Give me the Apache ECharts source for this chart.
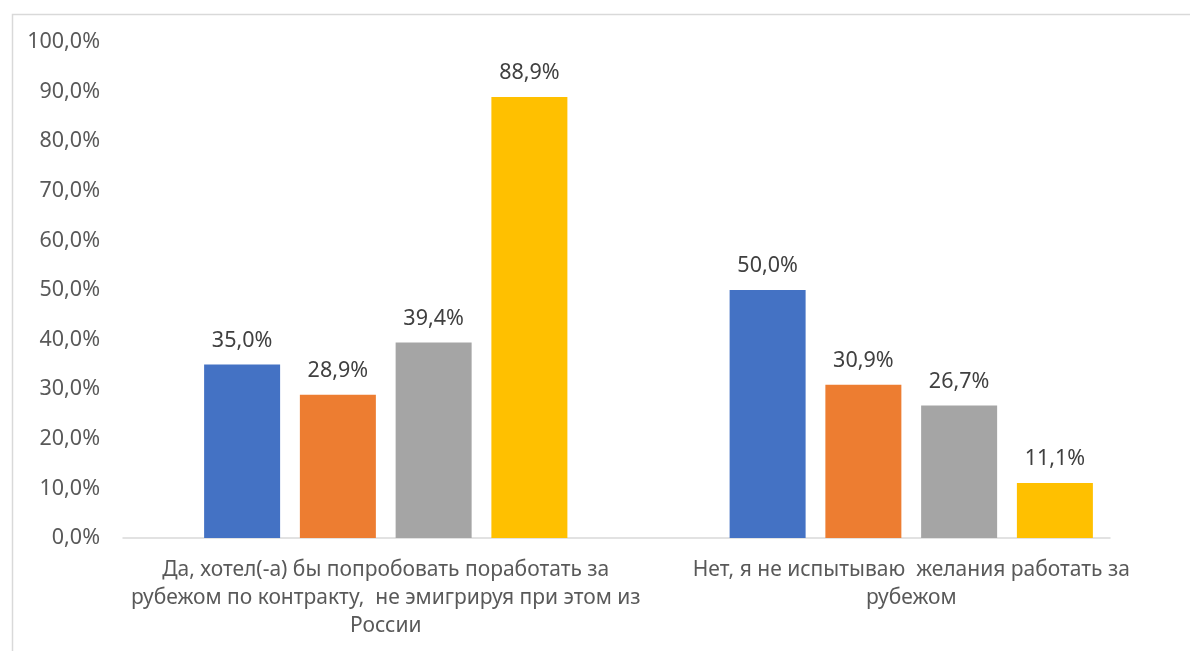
<!DOCTYPE html>
<html><head><meta charset="utf-8">
<script src="https://cdn.jsdelivr.net/npm/echarts@6/dist/echarts.min.js"></script>
<style>html,body{margin:0;padding:0;background:#fff}#c{width:1190px;height:651px}</style>
</head><body><div id="c"></div>
<script>
const categories = [
  'Да, хотел(-а) бы попробовать поработать за\nрубежом по контракту,  не эмигрируя при этом из\nРоссии',
  'Нет, я не испытываю  желания работать за\nрубежом'
];
const seriesA = [35.0, 50.0];
const seriesB = [28.9, 30.9];
const seriesC = [39.4, 26.7];
const seriesD = [88.9, 11.1];
const colors = ['#4472C4', '#ED7D31', '#A5A5A5', '#FFC000'];
const yMin = 0, yMax = 100, yStep = 10;

const fmt = v => v.toFixed(1).replace('.', ',') + '%';
const font = 'Noto Sans';
const mk = (name, data, color) => ({
  name, type: 'bar', data, xAxisIndex: 0, yAxisIndex: 0,
  barWidth: 76, barGap: '26%',
  itemStyle: { color },
  label: { show: true, position: 'top', distance: 13, color: '#404040', fontSize: 21.5, fontFamily: font,
    formatter: p => fmt(p.value) }
});
const chart = echarts.init(document.getElementById('c'));
chart.setOption({
  animation: false,
  graphic: [{ type: 'rect', left: 10, top: 12, shape: { width: 1300, height: 800 },
    style: { fill: 'none', stroke: '#D9D9D9', lineWidth: 1.5 }, silent: true }],
  grid: [
    { left: 123, right: 16, top: 42, bottom: 113 },
    { left: 123, right: 80, top: 42, bottom: 113 }
  ],
  xAxis: [
    { type: 'category', gridIndex: 0, data: categories,
      axisLine: { show: false }, axisTick: { show: false },
      axisLabel: { color: '#595959', fontSize: 21, fontFamily: font, lineHeight: 28, margin: 18, interval: 0 } },
    { type: 'value', gridIndex: 1, min: 0, max: 1, axisLabel: { show: false }, axisTick: { show: false },
      splitLine: { show: false }, axisLine: { show: true, onZero: false, lineStyle: { color: '#D9D9D9', width: 1.5 } } }
  ],
  yAxis: [
    { type: 'value', gridIndex: 0, min: yMin, max: yMax, interval: yStep,
      axisLine: { show: false }, axisTick: { show: false }, splitLine: { show: false },
      axisLabel: { color: '#595959', fontSize: 21.5, fontFamily: font, margin: 23, formatter: v => fmt(v) } },
    { type: 'value', gridIndex: 1, min: yMin, max: yMax, show: false }
  ],
  series: [
    mk('A', seriesA, colors[0]),
    mk('B', seriesB, colors[1]),
    mk('C', seriesC, colors[2]),
    mk('D', seriesD, colors[3])
  ]
});
</script></body></html>
